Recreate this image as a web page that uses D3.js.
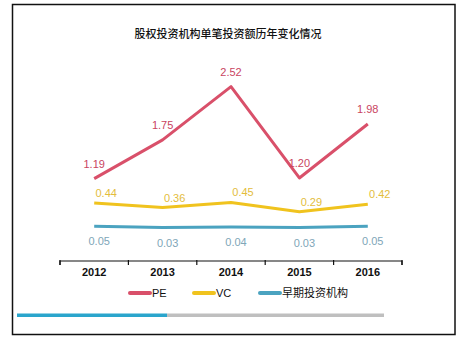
<!DOCTYPE html>
<html><head><meta charset="utf-8">
<script src="https://cdn.jsdelivr.net/npm/d3@7"></script>
<style>
html,body{margin:0;padding:0;background:#fff;}
svg{display:block;}
text{font-family:Arial,"Liberation Sans",sans-serif;}
</style></head>
<body>
<svg id="c" width="464" height="341"></svg>
<script>
const title = "股权投资机构单笔投资额历年变化情况";
const years = ["2012","2013","2014","2015","2016"];
const peValues = [1.19, 1.75, 2.52, 1.20, 1.98];
const vcValues = [0.44, 0.36, 0.45, 0.29, 0.42];
const earlyValues = [0.05, 0.03, 0.04, 0.03, 0.05];
const seriesNames = ["PE", "VC", "早期投资机构"];

const colors = {pe:"#d9506a", vc:"#f0c31e", early:"#4ba3c0"};
const labelColors = {pe:"#c9445f", vc:"#e3bd3c", early:"#80a6b8"};

const svg = d3.select("#c");

// frame
svg.append("rect").attr("x",12.5).attr("y",4.5).attr("width",442.5).attr("height",330)
  .attr("fill","#fff").attr("stroke","#111").attr("stroke-width",1.5);

svg.append("text").attr("x",228).attr("y",38).attr("text-anchor","middle")
  .style("font-family","'Noto Sans CJK SC',sans-serif").style("font-size","11px")
  .style("font-weight","500").attr("fill","#111").text(title);

const x = d3.scaleBand().domain(years).range([60,402]).padding(0);
const cx = d => x(d) + x.bandwidth()/2;

// separate value scales per series (as in original)
const yPE = d3.scaleLinear().domain([0,2.52]).range([261,86.6]);
const yVC = d3.scaleLinear().domain([0,0.45]).range([228.5,202.4]);
const yEarly = d3.scaleLinear().domain([0,0.05]).range([229.3,226.3]);

// axis
const axis = d3.axisBottom(x).tickSize(4).tickSizeOuter(4).tickFormat("");
const ag = svg.append("g").attr("transform","translate(0,261)").call(axis);
ag.select(".domain").attr("stroke","#111").attr("stroke-width",1.2).attr("d","M60,4V0H402V4");
ag.selectAll(".tick").remove();
const edges = years.map(d=>x(d)).concat([x(years[years.length-1])+x.bandwidth()]);
ag.selectAll("line.edge").data(edges).enter().append("line").attr("class","edge")
  .attr("x1",d=>d).attr("x2",d=>d).attr("y1",-1).attr("y2",4)
  .attr("stroke","#111").attr("stroke-width",1.2);
svg.selectAll("text.year").data(years).enter().append("text").attr("class","year")
  .attr("x",d=>cx(d)).attr("y",276).attr("text-anchor","middle")
  .style("font-size","11px").style("font-weight","bold").attr("fill","#111").text(d=>d);

function drawSeries(vals, yS, color, lcolor, dx, dy){
  const line = d3.line().x((d,i)=>cx(years[i])).y(d=>yS(d));
  svg.append("path").datum(vals).attr("d",line).attr("fill","none")
    .attr("stroke",color).attr("stroke-width",3).attr("stroke-linejoin","round");
  svg.append("g").selectAll("text").data(vals).enter().append("text")
    .attr("x",(d,i)=>cx(years[i])+dx).attr("y",d=>yS(d)+dy)
    .attr("text-anchor","middle").attr("dominant-baseline","central")
    .style("font-size","11px").attr("fill",lcolor).text(d=>d.toFixed(2));
}
drawSeries(peValues, yPE, colors.pe, labelColors.pe, 0, -15);
drawSeries(vcValues, yVC, colors.vc, labelColors.vc, 12, -10);
drawSeries(earlyValues, yEarly, colors.early, labelColors.early, 5, 15);

// legend
const legX = [128, 192, 258];
const legC = [colors.pe, colors.vc, colors.early];
const lg = svg.append("g");
seriesNames.forEach((n,i)=>{
  lg.append("line").attr("x1",legX[i]+2).attr("x2",legX[i]+22).attr("y1",293).attr("y2",293)
    .attr("stroke",legC[i]).attr("stroke-width",4).attr("stroke-linecap","round");
  lg.append("text").attr("x",legX[i]+24).attr("y",297)
    .style("font-size","11px").style("font-family", i===2?"'Noto Sans CJK SC',sans-serif":null)
    .attr("fill","#111").text(n);
});

// bottom progress bar
svg.append("rect").attr("x",167).attr("y",313.5).attr("width",217).attr("height",3.5).attr("fill","#bfbfbf");
svg.append("rect").attr("x",17).attr("y",313.5).attr("width",150).attr("height",3.5).attr("fill","#2aa5cc");
</script>
</body></html>
